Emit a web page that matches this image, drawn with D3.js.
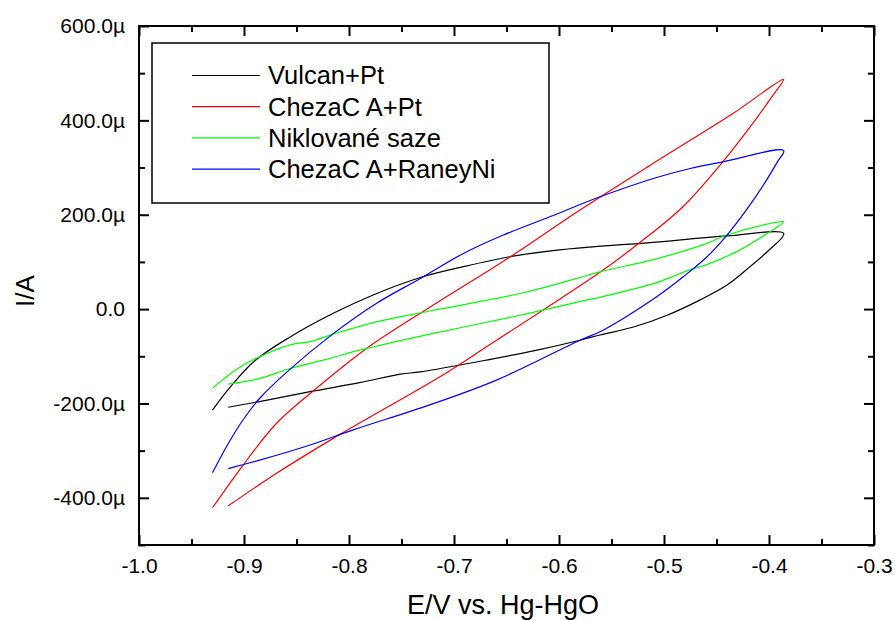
<!DOCTYPE html>
<html>
<head>
<meta charset="utf-8">
<script src="https://cdn.jsdelivr.net/npm/d3@7"></script>
<style>
  body { margin: 0; background: #fff; }
  text { font-family: "Liberation Sans", Arial, sans-serif; fill: #000; }
</style>
</head>
<body>
<script>
'use strict';

// series: [E (V vs Hg-HgO), I (µA)], forward sweep then reverse sweep
const vulcanPt = [
  [-0.930, -214], [-0.913, -165], [-0.890, -110], [-0.856, -59], [-0.815, -9],
  [-0.777, 30], [-0.732, 67], [-0.691, 90], [-0.647, 111], [-0.606, 124],
  [-0.568, 132], [-0.513, 141], [-0.440, 155], [-0.386, 160],
  [-0.402, 121], [-0.418, 90], [-0.440, 51], [-0.466, 19], [-0.497, -13],
  [-0.529, -38], [-0.561, -55], [-0.580, -66], [-0.621, -87], [-0.669, -108],
  [-0.732, -133], [-0.751, -138], [-0.790, -156], [-0.837, -175], [-0.878, -193],
  [-0.915, -208]
];
const chezaPt = [
  [-0.930, -421], [-0.901, -331], [-0.869, -242], [-0.837, -179], [-0.783, -83],
  [-0.723, 4], [-0.647, 110], [-0.580, 210], [-0.513, 305], [-0.434, 415],
  [-0.386, 487],
  [-0.396, 454], [-0.418, 386], [-0.444, 312], [-0.482, 217], [-0.523, 141],
  [-0.561, 78], [-0.618, -6], [-0.669, -80], [-0.713, -143], [-0.815, -274],
  [-0.869, -348], [-0.915, -417]
];
const niklSaze = [
  [-0.930, -168], [-0.901, -119], [-0.856, -76], [-0.837, -69], [-0.815, -53],
  [-0.774, -27], [-0.723, -4], [-0.637, 33], [-0.583, 65], [-0.561, 79],
  [-0.510, 105], [-0.463, 136], [-0.440, 157], [-0.402, 180], [-0.386, 185],
  [-0.402, 160], [-0.428, 125], [-0.456, 97], [-0.478, 81], [-0.507, 56],
  [-0.539, 37], [-0.561, 25], [-0.574, 19], [-0.637, -13], [-0.723, -53],
  [-0.790, -87], [-0.821, -106], [-0.856, -126], [-0.885, -147], [-0.915, -159]
];
const chezaRaney = [
  [-0.930, -347], [-0.915, -285], [-0.901, -235], [-0.885, -189], [-0.859, -133],
  [-0.815, -52], [-0.774, 12], [-0.732, 65], [-0.691, 118], [-0.653, 157],
  [-0.605, 199], [-0.561, 238], [-0.507, 279], [-0.475, 298], [-0.444, 312],
  [-0.386, 336],
  [-0.392, 312], [-0.405, 264], [-0.421, 212], [-0.440, 157], [-0.459, 111],
  [-0.482, 68], [-0.507, 26], [-0.536, -16], [-0.561, -48], [-0.580, -66],
  [-0.659, -150], [-0.723, -203], [-0.796, -256], [-0.837, -288], [-0.885, -320],
  [-0.915, -338]
];

const seriesNames = ["Vulcan+Pt", "ChezaC A+Pt", "Niklované saze", "ChezaC A+RaneyNi"];
const seriesColors = ["#000000", "#ff0000", "#00ff00", "#0000ff"];
const seriesData = [vulcanPt, chezaPt, niklSaze, chezaRaney];

const xMajor = [-1.0, -0.9, -0.8, -0.7, -0.6, -0.5, -0.4, -0.3];
const xMinor = [-0.95, -0.85, -0.75, -0.65, -0.55, -0.45, -0.35];
const yMajor = [-400, -200, 0, 200, 400, 600];
const yMinor = [-500, -300, -100, 100, 300, 500];

(function () {
  const left = 139, top = 26, right = 874, bottom = 545;

  let svgContainer = d3.select('body')
    .append('svg')
    .attr('width', 895)
    .attr('height', 620);

  let xScale = d3.scaleLinear().domain([-1.0, -0.3]).range([left, right]);
  let yScale = d3.scaleLinear().domain([-500, 600]).range([bottom, top]);

  let fmtX = d => d.toFixed(1);
  let fmtY = d => d === 0 ? "0.0" : d.toFixed(1) + "\u00b5";

  // bottom axis with labels, ticks pointing inward
  let gx = svgContainer.append('g')
    .attr('transform', `translate(0, ${bottom})`)
    .call(d3.axisBottom(xScale).tickValues(xMajor).tickSize(-10).tickPadding(13).tickFormat(fmtX));
  gx.selectAll('text').style('font-size', '21px');
  svgContainer.append('g')
    .attr('transform', `translate(0, ${bottom})`)
    .call(d3.axisBottom(xScale).tickValues(xMinor).tickSize(-6).tickFormat(''));

  // top axis (mirror)
  svgContainer.append('g')
    .attr('transform', `translate(0, ${top})`)
    .call(d3.axisTop(xScale).tickValues(xMajor).tickSize(-10).tickFormat(''));
  svgContainer.append('g')
    .attr('transform', `translate(0, ${top})`)
    .call(d3.axisTop(xScale).tickValues(xMinor).tickSize(-6).tickFormat(''));

  // left axis with labels
  let gy = svgContainer.append('g')
    .attr('transform', `translate(${left}, 0)`)
    .call(d3.axisLeft(yScale).tickValues(yMajor).tickSize(-10).tickPadding(14).tickFormat(fmtY));
  gy.selectAll('text').style('font-size', '21px');
  svgContainer.append('g')
    .attr('transform', `translate(${left}, 0)`)
    .call(d3.axisLeft(yScale).tickValues(yMinor).tickSize(-6).tickFormat(''));

  // right axis (mirror)
  svgContainer.append('g')
    .attr('transform', `translate(${right}, 0)`)
    .call(d3.axisRight(yScale).tickValues(yMajor).tickSize(-10).tickFormat(''));
  svgContainer.append('g')
    .attr('transform', `translate(${right}, 0)`)
    .call(d3.axisRight(yScale).tickValues(yMinor).tickSize(-6).tickFormat(''));

  svgContainer.selectAll('.domain').remove();
  svgContainer.selectAll('.tick line').attr('stroke', '#000').attr('stroke-width', 2);

  // frame
  svgContainer.append('rect')
    .attr('x', left).attr('y', top)
    .attr('width', right - left).attr('height', bottom - top)
    .attr('fill', 'none')
    .attr('stroke', '#000')
    .attr('stroke-width', 2);

  // curves
  let valueLine = d3.line()
    .x(d => xScale(d[0]))
    .y(d => yScale(d[1]))
    .curve(d3.curveCatmullRom.alpha(0.5));

  seriesData.forEach((s, i) => {
    svgContainer.append('path')
      .attr('d', valueLine(s))
      .attr('fill', 'none')
      .attr('stroke', seriesColors[i])
      .attr('stroke-width', 1.2);
  });

  // legend
  let legend = svgContainer.append('g');
  legend.append('rect')
    .attr('x', 152).attr('y', 43)
    .attr('width', 397).attr('height', 160)
    .attr('fill', '#fff')
    .attr('stroke', '#000')
    .attr('stroke-width', 1.5);
  seriesNames.forEach((name, i) => {
    let ly = 75.5 + i * 31.2;
    legend.append('line')
      .attr('x1', 192).attr('x2', 260)
      .attr('y1', ly).attr('y2', ly)
      .attr('stroke', seriesColors[i])
      .attr('stroke-width', 1.2);
    legend.append('text')
      .attr('x', 268).attr('y', ly)
      .attr('dy', '0.35em')
      .style('font-size', '25.5px')
      .text(name);
  });

  // axis titles
  svgContainer.append('text')
    .attr('x', 503)
    .attr('y', 605)
    .attr('dy', '0.35em')
    .attr('text-anchor', 'middle')
    .style('font-size', '27px')
    .text('E/V vs. Hg-HgO');

  svgContainer.append('text')
    .attr('transform', 'translate(25, 291)rotate(-90)')
    .attr('dy', '0.35em')
    .attr('text-anchor', 'middle')
    .style('font-size', '26px')
    .text('I/A');
})();
</script>
</body>
</html>
